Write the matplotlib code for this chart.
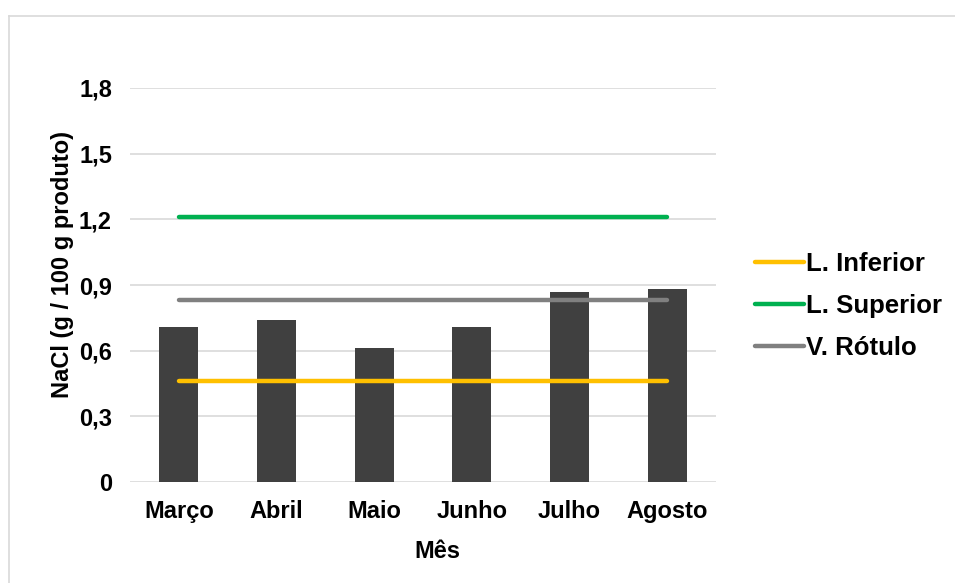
import matplotlib
matplotlib.use("Agg")
from matplotlib import pyplot as plt
from matplotlib.lines import Line2D
import numpy as np

plt.rcParams['font.family'] = ['Liberation Sans', 'DejaVu Sans']

meses = ["Março", "Abril", "Maio", "Junho", "Julho", "Agosto"]
nacl = [0.71, 0.74, 0.61, 0.71, 0.87, 0.88]
lim_inferior = [0.46] * 6
lim_superior = [1.21] * 6
v_rotulo = [0.83] * 6
yticks = [0, 0.3, 0.6, 0.9, 1.2, 1.5, 1.8]
ytick_labels = ["0", "0,3", "0,6", "0,9", "1,2", "1,5", "1,8"]

fs = 17

fig = plt.figure(figsize=(9.55, 5.83), dpi=100)
ax = fig.add_axes([130 / 955, 1 - 482 / 583, 586 / 955, (482 - 88) / 583])

x = np.arange(len(meses))
ax.bar(x, nacl, width=0.4, color="#404040", zorder=2)
ax.plot(x, lim_inferior, color="#FFC000", lw=3.2, solid_capstyle="round", zorder=3, label="L. Inferior")
ax.plot(x, lim_superior, color="#00B050", lw=3.2, solid_capstyle="round", zorder=3, label="L. Superior")
ax.plot(x, v_rotulo, color="#808080", lw=3.2, solid_capstyle="round", zorder=3, label="V. Rótulo")

ax.set_xlim(-0.5, len(meses) - 0.5)
ax.set_ylim(0, 1.8)
ax.set_yticks(yticks)
ax.set_yticklabels(ytick_labels)
ax.set_xticks(x)
ax.set_xticklabels(meses)
ax.yaxis.grid(True, color="#d9d9d9", lw=1.2, zorder=0)
ax.set_axisbelow(True)
for s in ax.spines.values():
    s.set_visible(False)
ax.tick_params(length=0, labelsize=fs)
ax.tick_params(axis="y", pad=13)
ax.tick_params(axis="x", pad=13)
for lab in ax.get_xticklabels() + ax.get_yticklabels():
    lab.set_fontweight("bold")

ax.set_xlabel("Mês", fontsize=fs, fontweight="bold")
ax.set_ylabel("NaCl (g / 100 g produto)", fontsize=fs, fontweight="bold")
ax.xaxis.set_label_coords((437 - 130) / 586, (482 - 552) / 394)
ax.yaxis.set_label_coords((62 - 130) / 586, (482 - 264) / 394)
ax.xaxis.label.set_va("center")
ax.yaxis.label.set_va("center")

leg = ax.legend(loc="upper left", bbox_to_anchor=(755 / 955, 1 - 252 / 583),
                bbox_transform=fig.transFigure, frameon=False, borderpad=0,
                borderaxespad=0, prop={"weight": "bold", "size": 18.5},
                handlelength=1.9, handletextpad=0.1, labelspacing=0.7)
for h in leg.get_lines():
    h.set_linewidth(3.2)

# chart area border (top and left visible)
fig.add_artist(Line2D([9 / 955, 1.0], [1 - 16 / 583, 1 - 16 / 583], color="#d9d9d9", lw=1.2, transform=fig.transFigure))
fig.add_artist(Line2D([9 / 955, 9 / 955], [0, 1 - 16 / 583], color="#d9d9d9", lw=1.2, transform=fig.transFigure))

fig.savefig("out.png", dpi=100)
